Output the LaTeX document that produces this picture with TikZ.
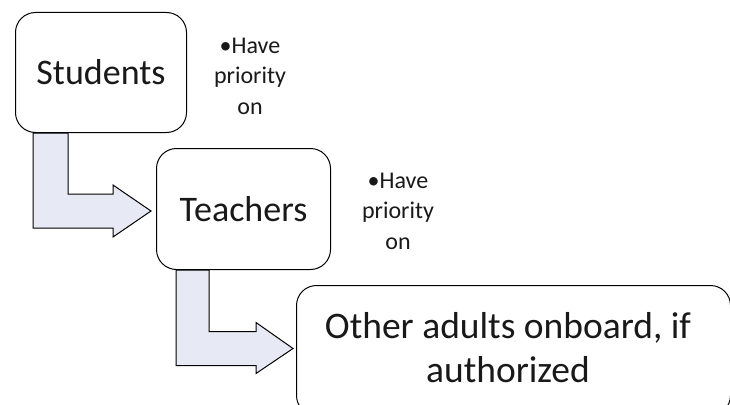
\documentclass[tikz,border=0pt]{standalone}
\usepackage{fontspec}
\setmainfont{Carlito}
\usepackage{tikz}
\usetikzlibrary{calc}
\definecolor{arrowfill}{RGB}{231,233,244}
\tikzset{
  levelbox/.style={draw, fill=white, rounded corners=20pt, line width=1pt, anchor=north west,
    align=center, inner sep=0pt, text=black!90, font=\fontsize{36}{42}\selectfont},
  notetext/.style={align=center, text=black!90, font=\fontsize{24}{30.5}\selectfont},
  bentarrow/.style={draw, fill=arrowfill, line width=1pt, line join=miter}
}

\begin{document}
\begin{tikzpicture}[x=1pt,y=-1pt]
                \useasboundingbox (0,0) rectangle (730,404);
                \clip (0,0) rectangle (730,404);
                % Levels
                \node[levelbox, minimum width=171pt, minimum height=120pt] (students) at (15,12) {Students};
                \node[levelbox, minimum width=174pt, minimum height=121pt] (teachers) at (156,148) {Teachers};
                \node[levelbox, minimum width=434pt, minimum height=130pt] (others) at (296,285) {};
                \node[levelbox, draw=none, fill=none, anchor=center, font=\fontsize{37.5}{44}\selectfont] (otherslabel) at (508,348) {Other adults onboard, if\\authorized};
                \node[notetext] (note1) at (250,76) {•Have\\priority\\on};
                \node[notetext] (note2) at (398,211) {•Have\\priority\\on};
                % Bent arrows
                \coordinate (tip1) at ($(teachers.west)+(-5,2)$);
                \coordinate (tip2) at ($(others.west)+(-3,-2)$);
                \draw[bentarrow] ($(students.south west)+(18,0)$) |- ($(tip1)+(-38,17)$) -- ++(0,9) -- (tip1)
                    -- ++(-38,-26) -- ++(0,9) -| ($(students.south west)+(53,0)$) -- cycle;
                \draw[bentarrow] ($(teachers.south west)+(20,0)$) |- ($(tip2)+(-37,17)$) -- ++(0,8) -- (tip2)
                    -- ++(-37,-26) -- ++(0,9) -| ($(teachers.south west)+(53,0)$) -- cycle;
            \end{tikzpicture}
\end{document}
